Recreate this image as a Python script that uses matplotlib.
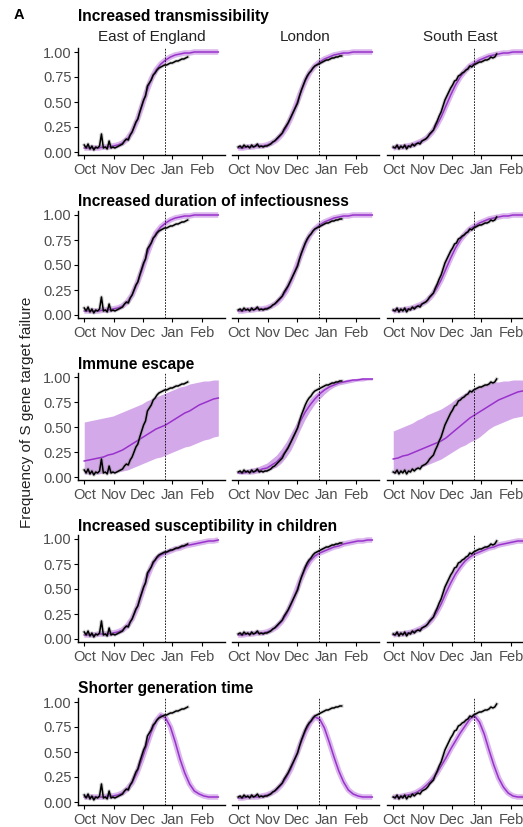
import matplotlib
matplotlib.use("Agg")
import matplotlib.pyplot as plt

plt.rcParams['font.family'] = ['Liberation Sans', 'DejaVu Sans']

# regions (columns) and scenarios (rows)
regions = ["East of England", "London", "South East"]
scenarios = ["Increased transmissibility",
             "Increased duration of infectiousness",
             "Immune escape",
             "Increased susceptibility in children",
             "Shorter generation time"]

# days since 1 Oct
month_ticks = [0, 31, 61, 92, 123]
month_labels = ["Oct", "Nov", "Dec", "Jan", "Feb"]
cutoff_day = 84

# observed SGTF frequency, every 2 days from 1 Oct
obs_days = list(range(0, 109, 2))
obs_eoe = [0.07, 0.04, 0.08, 0.03, 0.06, 0.02, 0.05, 0.04, 0.06, 0.18,
           0.04, 0.05, 0.03, 0.11, 0.04, 0.05, 0.04, 0.05, 0.06, 0.07,
           0.08, 0.11, 0.13, 0.12, 0.17, 0.20, 0.25, 0.30, 0.33, 0.40,
           0.46, 0.52, 0.56, 0.66, 0.69, 0.72, 0.77, 0.79, 0.82, 0.84,
           0.85, 0.86, 0.87, 0.87, 0.88, 0.89, 0.89, 0.90, 0.91, 0.91,
           0.92, 0.93, 0.93, 0.94, 0.95]
obs_lon = [0.05, 0.06, 0.04, 0.07, 0.05, 0.06, 0.04, 0.07, 0.05, 0.06,
           0.08, 0.05, 0.06, 0.05, 0.06, 0.06, 0.07, 0.08, 0.10, 0.11,
           0.13, 0.15, 0.17, 0.19, 0.23, 0.26, 0.29, 0.33, 0.37, 0.41,
           0.45, 0.49, 0.56, 0.62, 0.67, 0.72, 0.76, 0.79, 0.81, 0.84,
           0.86, 0.87, 0.88, 0.89, 0.90, 0.91, 0.92, 0.92, 0.93, 0.94,
           0.94, 0.95, 0.95, 0.96, 0.96]
obs_se = [0.05, 0.04, 0.07, 0.03, 0.06, 0.04, 0.07, 0.03, 0.06, 0.05,
          0.08, 0.06, 0.08, 0.09, 0.08, 0.11, 0.12, 0.13, 0.15, 0.18,
          0.20, 0.22, 0.27, 0.31, 0.36, 0.40, 0.46, 0.52, 0.56, 0.60,
          0.64, 0.67, 0.71, 0.72, 0.76, 0.77, 0.79, 0.80, 0.82, 0.83,
          0.86, 0.85, 0.87, 0.88, 0.89, 0.90, 0.90, 0.91, 0.92, 0.92,
          0.93, 0.95, 0.94, 0.95, 0.98]

# model fits, every 5 days from 1 Oct
model_days = list(range(0, 141, 5))
trans_eoe = [0.04, 0.04, 0.04, 0.04, 0.05, 0.05, 0.06, 0.07, 0.09, 0.13,
             0.20, 0.31, 0.45, 0.60, 0.73, 0.82, 0.88, 0.92, 0.95, 0.97,
             0.98, 0.99, 0.99, 1.00, 1.00, 1.00, 1.00, 1.00, 1.00]
trans_lon = [0.04, 0.04, 0.05, 0.05, 0.06, 0.06, 0.07, 0.09, 0.12, 0.17,
             0.24, 0.34, 0.46, 0.59, 0.71, 0.80, 0.86, 0.90, 0.93, 0.95,
             0.97, 0.98, 0.99, 0.99, 1.00, 1.00, 1.00, 1.00, 1.00]
trans_se = [0.04, 0.05, 0.05, 0.06, 0.07, 0.09, 0.11, 0.14, 0.19, 0.26,
            0.35, 0.46, 0.57, 0.67, 0.75, 0.81, 0.86, 0.89, 0.92, 0.94,
            0.96, 0.97, 0.98, 0.99, 0.99, 1.00, 1.00, 1.00, 1.00]

dur_eoe = [0.04, 0.04, 0.04, 0.04, 0.05, 0.05, 0.06, 0.07, 0.09, 0.13,
           0.20, 0.31, 0.44, 0.59, 0.72, 0.82, 0.88, 0.92, 0.95, 0.97,
           0.98, 0.99, 0.99, 1.00, 1.00, 1.00, 1.00, 1.00, 1.00]
dur_lon = [0.04, 0.04, 0.05, 0.05, 0.06, 0.06, 0.07, 0.09, 0.12, 0.17,
           0.24, 0.34, 0.46, 0.59, 0.71, 0.80, 0.86, 0.90, 0.93, 0.95,
           0.97, 0.98, 0.99, 0.99, 1.00, 1.00, 1.00, 1.00, 1.00]
dur_se = [0.04, 0.05, 0.05, 0.06, 0.07, 0.09, 0.11, 0.14, 0.19, 0.26,
          0.35, 0.46, 0.57, 0.67, 0.75, 0.81, 0.86, 0.89, 0.92, 0.94,
          0.96, 0.97, 0.98, 0.99, 0.99, 1.00, 1.00, 1.00, 1.00]

imm_eoe = [0.16, 0.17, 0.18, 0.19, 0.20, 0.22, 0.23, 0.25, 0.27, 0.30,
           0.33, 0.36, 0.39, 0.42, 0.45, 0.48, 0.50, 0.52, 0.55, 0.58,
           0.61, 0.64, 0.66, 0.69, 0.72, 0.74, 0.76, 0.78, 0.79]
imm_eoe_lo = [0.03, 0.03, 0.03, 0.03, 0.04, 0.04, 0.04, 0.05, 0.06, 0.07,
              0.09, 0.11, 0.13, 0.15, 0.17, 0.19, 0.20, 0.22, 0.24, 0.26,
              0.28, 0.30, 0.31, 0.33, 0.35, 0.37, 0.38, 0.40, 0.41]
imm_eoe_hi = [0.55, 0.56, 0.57, 0.58, 0.59, 0.60, 0.61, 0.63, 0.65, 0.67,
              0.69, 0.71, 0.73, 0.76, 0.78, 0.80, 0.82, 0.84, 0.86, 0.88,
              0.90, 0.91, 0.93, 0.94, 0.95, 0.96, 0.96, 0.97, 0.97]
imm_lon = [0.04, 0.04, 0.05, 0.05, 0.06, 0.08, 0.09, 0.12, 0.15, 0.20,
           0.27, 0.35, 0.45, 0.56, 0.65, 0.72, 0.78, 0.83, 0.87, 0.90,
           0.92, 0.94, 0.95, 0.96, 0.97, 0.97, 0.98, 0.98, 0.98]
imm_lon_lo = [0.03, 0.03, 0.03, 0.03, 0.04, 0.05, 0.06, 0.08, 0.10, 0.14,
              0.20, 0.27, 0.37, 0.48, 0.58, 0.66, 0.73, 0.78, 0.83, 0.87,
              0.90, 0.92, 0.93, 0.94, 0.95, 0.96, 0.96, 0.97, 0.97]
imm_lon_hi = [0.06, 0.07, 0.08, 0.09, 0.10, 0.12, 0.14, 0.18, 0.22, 0.28,
              0.35, 0.44, 0.53, 0.63, 0.71, 0.78, 0.83, 0.87, 0.90, 0.93,
              0.95, 0.96, 0.97, 0.98, 0.98, 0.99, 0.99, 0.99, 0.99]
imm_se = [0.18, 0.19, 0.21, 0.22, 0.24, 0.26, 0.28, 0.30, 0.32, 0.34,
          0.36, 0.39, 0.43, 0.47, 0.51, 0.55, 0.59, 0.62, 0.65, 0.68,
          0.71, 0.74, 0.77, 0.79, 0.81, 0.83, 0.85, 0.86, 0.87]
imm_se_lo = [0.03, 0.04, 0.05, 0.06, 0.07, 0.08, 0.10, 0.12, 0.14, 0.16,
             0.18, 0.21, 0.24, 0.27, 0.30, 0.32, 0.35, 0.37, 0.40, 0.44,
             0.48, 0.51, 0.53, 0.55, 0.57, 0.59, 0.60, 0.61, 0.62]
imm_se_hi = [0.46, 0.48, 0.50, 0.52, 0.54, 0.57, 0.59, 0.62, 0.64, 0.66,
             0.68, 0.71, 0.74, 0.78, 0.81, 0.84, 0.87, 0.89, 0.91, 0.92,
             0.94, 0.95, 0.95, 0.96, 0.96, 0.97, 0.97, 0.97, 0.98]

susc_eoe = [0.04, 0.04, 0.04, 0.05, 0.05, 0.05, 0.06, 0.07, 0.09, 0.13,
            0.20, 0.31, 0.45, 0.60, 0.72, 0.80, 0.84, 0.86, 0.88, 0.90,
            0.91, 0.93, 0.94, 0.95, 0.96, 0.97, 0.98, 0.98, 0.99]
susc_lon = [0.04, 0.04, 0.05, 0.05, 0.06, 0.06, 0.07, 0.09, 0.12, 0.17,
            0.24, 0.34, 0.46, 0.59, 0.70, 0.78, 0.83, 0.86, 0.88, 0.90,
            0.92, 0.93, 0.95, 0.96, 0.97, 0.98, 0.98, 0.99, 0.99]
susc_se = [0.04, 0.05, 0.05, 0.06, 0.07, 0.09, 0.11, 0.14, 0.19, 0.26,
           0.35, 0.46, 0.56, 0.65, 0.72, 0.78, 0.82, 0.85, 0.87, 0.89,
           0.91, 0.92, 0.94, 0.95, 0.96, 0.97, 0.98, 0.98, 0.99]

gen_eoe = [0.05, 0.05, 0.05, 0.05, 0.05, 0.06, 0.06, 0.07, 0.09, 0.13,
           0.19, 0.29, 0.42, 0.56, 0.70, 0.81, 0.87, 0.84, 0.75, 0.60,
           0.43, 0.29, 0.18, 0.11, 0.08, 0.06, 0.05, 0.05, 0.05]
gen_lon = [0.04, 0.04, 0.05, 0.05, 0.05, 0.06, 0.07, 0.09, 0.12, 0.17,
           0.24, 0.33, 0.45, 0.58, 0.70, 0.79, 0.85, 0.83, 0.74, 0.60,
           0.45, 0.31, 0.20, 0.12, 0.08, 0.06, 0.05, 0.05, 0.05]
gen_se = [0.05, 0.05, 0.06, 0.07, 0.08, 0.10, 0.13, 0.17, 0.22, 0.28,
          0.36, 0.44, 0.53, 0.61, 0.69, 0.76, 0.83, 0.86, 0.80, 0.68,
          0.52, 0.37, 0.24, 0.15, 0.09, 0.06, 0.05, 0.05, 0.05]

observed = [obs_eoe, obs_lon, obs_se]
models = [[trans_eoe, trans_lon, trans_se],
          [dur_eoe, dur_lon, dur_se],
          [imm_eoe, imm_lon, imm_se],
          [susc_eoe, susc_lon, susc_se],
          [gen_eoe, gen_lon, gen_se]]
bands = {(2, 0): (imm_eoe_lo, imm_eoe_hi),
         (2, 1): (imm_lon_lo, imm_lon_hi),
         (2, 2): (imm_se_lo, imm_se_hi)}

PURPLE = '#9932CC'
GREY = '#4D4D4D'
W, H = 523, 827

fig = plt.figure(figsize=(W / 100, H / 100), dpi=100)

col_left = [78, 232, 387]
panel_w = 147
row_top = [48, 211, 373, 535, 698]  # pixel top of each panel
panel_h = 107

for r, scen in enumerate(scenarios):
    for c, reg in enumerate(regions):
        ax = fig.add_axes([col_left[c] / W, 1 - (row_top[r] + panel_h) / H,
                           panel_w / W, panel_h / H])
        if (r, c) in bands:
            lo, hi = bands[(r, c)]
            ax.fill_between(model_days, lo, hi, color=PURPLE, alpha=0.42, lw=0)
        else:
            ax.plot(model_days, models[r][c], color=PURPLE, lw=4, alpha=0.35,
                    solid_capstyle='butt')
        ax.plot(model_days, models[r][c], color=PURPLE, lw=1.1)
        ax.plot(obs_days, observed[c], color='grey', lw=2.6, alpha=0.35)
        ax.plot(obs_days, observed[c], color='black', lw=1.1)
        ax.axvline(cutoff_day, color='black', lw=0.6, ls=(0, (2, 1.5)))

        ax.set_xlim(-6.5, 147)
        ax.set_ylim(-0.03, 1.04)
        ax.set_xticks(month_ticks)
        ax.set_xticklabels(month_labels)
        ax.set_yticks([0, 0.25, 0.5, 0.75, 1.0])
        if c == 0:
            ax.set_yticklabels(['0.00', '0.25', '0.50', '0.75', '1.00'])
        else:
            ax.set_yticklabels([])
            ax.spines['left'].set_visible(False)
            ax.tick_params(axis='y', left=False)
        for s in ['top', 'right']:
            ax.spines[s].set_visible(False)
        for s in ['left', 'bottom']:
            ax.spines[s].set_linewidth(1.0)
        ax.tick_params(length=3, width=0.8, labelsize=10.5, labelcolor=GREY)
        ax.tick_params(axis='x', pad=2.5)
        ax.tick_params(axis='y', pad=1.5)
        ax.patch.set_alpha(0)

        if r == 0:
            fig.text((col_left[c] + panel_w / 2) / W, 1 - 37 / H, reg,
                     ha='center', va='center', fontsize=11, color='#222222')

    title_y = 16 if r == 0 else row_top[r] - 9
    fig.text(col_left[0] / W, 1 - title_y / H, scen, ha='left', va='center',
             fontsize=11.2, fontweight='bold')

fig.text(14 / W, 1 - 15 / H, 'A', fontsize=10.5, fontweight='bold',
         ha='left', va='center')
fig.text(27 / W, 1 - 412 / H, 'Frequency of S gene target failure',
         rotation=90, ha='center', va='center', fontsize=11, color='#222222')

fig.savefig('out.png', dpi=100)
